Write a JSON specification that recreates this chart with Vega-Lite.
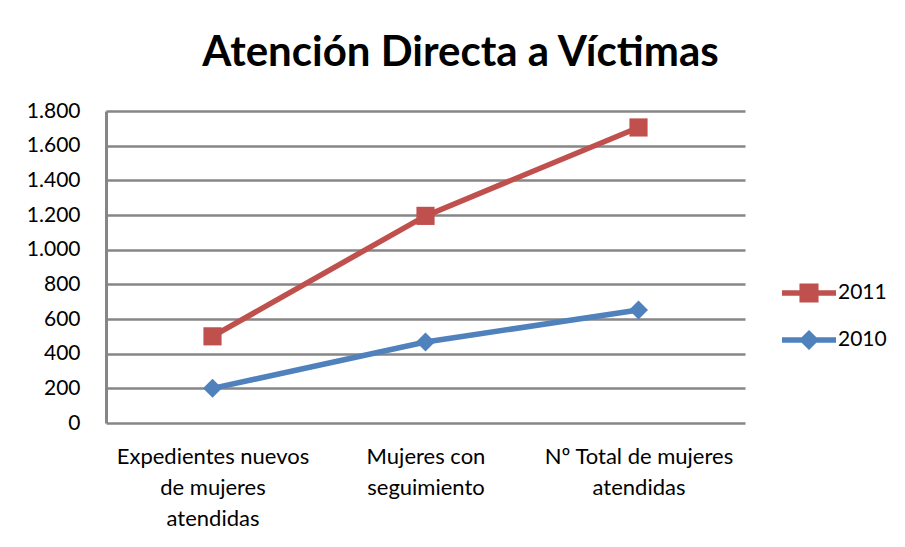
{
  "$schema": "https://vega.github.io/schema/vega-lite/v6.json",
  "width": 639,
  "height": 312,
  "autosize": {"type": "none"},
  "padding": {"left": 106, "top": 111, "right": 160, "bottom": 124},
  "background": "white",
  "title": {"text": "Atención Directa a Víctimas", "font": "Lato", "fontSize": 42, "fontWeight": "bold", "color": "black", "anchor": "middle", "frame": "group", "dx": 35, "offset": 25},
  "config": {"view": {"stroke": null}, "font": "Lato"},
  "data": {"values": [
    {"cat": "Expedientes nuevos de mujeres atendidas", "year": "2011", "value": 500},
    {"cat": "Mujeres con seguimiento", "year": "2011", "value": 1195},
    {"cat": "Nº Total de mujeres atendidas", "year": "2011", "value": 1705},
    {"cat": "Expedientes nuevos de mujeres atendidas", "year": "2010", "value": 200},
    {"cat": "Mujeres con seguimiento", "year": "2010", "value": 467},
    {"cat": "Nº Total de mujeres atendidas", "year": "2010", "value": 652}
  ]},
  "encoding": {
    "x": {
      "field": "cat", "type": "nominal",
      "sort": ["Expedientes nuevos de mujeres atendidas", "Mujeres con seguimiento", "Nº Total de mujeres atendidas"],
      "scale": {"type": "point", "padding": 0.5},
      "axis": {
        "title": null, "domain": false, "ticks": false, "grid": false, "labelAngle": 0, "labelLimit": 0,
        "labelFont": "Lato", "labelFontSize": 22, "labelColor": "black", "labelPadding": 23, "labelLineHeight": 31,
        "labelExpr": "datum.value == 'Expedientes nuevos de mujeres atendidas' ? ['Expedientes nuevos', 'de mujeres', 'atendidas'] : datum.value == 'Mujeres con seguimiento' ? ['Mujeres con', 'seguimiento'] : ['Nº Total  de mujeres', 'atendidas']"
      }
    },
    "y": {
      "field": "value", "type": "quantitative",
      "scale": {"domain": [0, 1800], "nice": false},
      "axis": {
        "title": null, "values": [0, 200, 400, 600, 800, 1000, 1200, 1400, 1600, 1800],
        "ticks": false, "domain": true, "domainColor": "#868686", "domainWidth": 3,
        "grid": true, "gridColor": "#868686", "gridWidth": 2.5, "gridOpacity": 1,
        "labelFont": "Lato", "labelFontSize": 21, "labelColor": "black", "labelPadding": 26,
        "labelExpr": "replace(format(datum.value, ','), ',', '.')"
      }
    },
    "color": {
      "field": "year", "type": "nominal",
      "scale": {"domain": ["2011", "2010"], "range": ["#C0504D", "#4F81BD"]},
      "legend": {
        "title": null, "orient": "none", "legendX": 685, "legendY": 164, "padding": 0,
        "symbolSize": 1296, "rowPadding": 19, "labelOffset": 11,
        "labelFont": "Lato", "labelFontSize": 21, "labelColor": "black",
        "symbolOpacity": 1, "symbolStrokeWidth": 0
      }
    }
  },
  "layer": [
    {"mark": {"type": "line", "strokeWidth": 5.5}},
    {
      "transform": [{"filter": "datum.year == '2011'"}],
      "mark": {"type": "point", "filled": true, "opacity": 1, "size": 330, "shape": "square"}
    },
    {
      "transform": [{"filter": "datum.year == '2010'"}],
      "mark": {"type": "point", "filled": true, "opacity": 1, "size": 360, "shape": "diamond"}
    },
    {
      "transform": [{"filter": "false"}],
      "mark": {"type": "point", "filled": true, "opacity": 1},
      "encoding": {
        "shape": {
          "field": "year", "type": "nominal",
          "scale": {"domain": ["2011", "2010"], "range": ["M-1.5,-0.15H1.5V0.15H-1.5Z M-0.53,-0.53H0.53V0.53H-0.53Z", "M-1.5,-0.15H1.5V0.15H-1.5Z M0,-0.56L0.56,0L0,0.56L-0.56,0Z"]}
        }
      }
    }
  ]
}
